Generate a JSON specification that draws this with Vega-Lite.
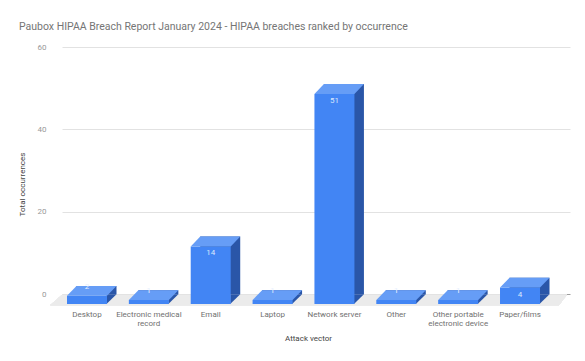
{
  "$schema": "https://vega.github.io/schema/vega-lite/v6.json",
  "autosize": {"type": "none"},
  "padding": {"left": 62, "top": 47, "right": 15, "bottom": 66.7},
  "width": 508,
  "height": 247.3,
  "background": "white",
  "title": {
    "text": "Paubox HIPAA Breach Report January 2024 - HIPAA breaches ranked by occurrence",
    "anchor": "start",
    "frame": "group",
    "dx": -43,
    "offset": 11,
    "font": "Roboto",
    "fontSize": 10.5,
    "fontWeight": "normal",
    "color": "#757575"
  },
  "config": {
    "view": {"stroke": null},
    "font": "Roboto"
  },
  "data": {
    "values": [
      {"vector": "Desktop", "count": 2},
      {"vector": "Electronic medical record", "count": 1},
      {"vector": "Email", "count": 14},
      {"vector": "Laptop", "count": 1},
      {"vector": "Network server", "count": 51},
      {"vector": "Other", "count": 1},
      {"vector": "Other portable electronic device", "count": 1},
      {"vector": "Paper/films", "count": 4}
    ]
  },
  "encoding": {
    "x": {
      "field": "vector",
      "type": "nominal",
      "sort": null,
      "scale": {"paddingInner": 0.3534, "paddingOuter": 0.2828, "align": 0.4145, "round": false},
      "axis": {
        "title": "Attack vector",
        "titleFont": "Roboto",
        "titleFontSize": 8,
        "titleFontWeight": "normal",
        "titleColor": "#444444",
        "titleX": 246,
        "titleY": 44,
        "titleBaseline": "middle",
        "labelAngle": 0,
        "labelFont": "Roboto",
        "labelFontSize": 8,
        "labelColor": "#707070",
        "labelOffset": -9.5,
        "labelPadding": 20,
        "labelLineHeight": 9,
        "labelBaseline": "middle",
        "labelExpr": "datum.value == 'Electronic medical record' ? ['Electronic medical', 'record'] : datum.value == 'Other portable electronic device' ? ['Other portable', 'electronic device'] : datum.label",
        "ticks": false,
        "domain": false,
        "grid": false
      }
    },
    "y": {
      "field": "count",
      "type": "quantitative",
      "scale": {"domain": [0, 60], "nice": false, "zero": true},
      "axis": {
        "title": "Total occurrences",
        "titleFont": "Roboto",
        "titleFontSize": 8,
        "titleFontWeight": "normal",
        "titleColor": "#444444",
        "titleX": -40,
        "titleY": 137,
        "titleBaseline": "middle",
        "values": [0, 20, 40, 60],
        "labelFont": "Roboto",
        "labelFontSize": 8,
        "labelColor": "#999999",
        "labelPadding": 16,
        "ticks": false,
        "domain": false,
        "grid": true,
        "gridColor": {"condition": {"test": "datum.value === 0", "value": "#9e9e9e"}, "value": "#e2e2e2"},
        "gridWidth": 1
      }
    }
  },
  "layer": [
    {
      "mark": {"type": "point", "filled": true, "opacity": 1, "strokeWidth": 0, "size": 4, "color": "#ebebeb",
        "shape": "M -34.5 0.5 L 470.5 0.5 L 462.5 11 L -46.5 11 Z"},
      "encoding": {"x": {"datum": "Desktop"}, "y": {"datum": 0}}
    },
    {
      "mark": {"type": "bar", "color": "#2a56a8"}
    },
    {
      "mark": {"type": "point", "filled": true, "opacity": 1, "strokeWidth": 0, "size": 4, "color": "#2a56a8",
        "shape": "M 10 0 L 10 9.8 L 20 0 Z"},
      "encoding": {"y": {"datum": 0}}
    },
    {
      "mark": {"type": "bar", "color": "#4285f4", "xOffset": -9.5, "x2Offset": -9.5, "yOffset": 9.8, "y2Offset": 9.8}
    },
    {
      "mark": {"type": "point", "filled": true, "opacity": 1, "strokeWidth": 0, "size": 4, "color": "#669df6",
        "shape": "M -29.5 9.8 L 10.5 9.8 L 20 0 L -20 0 Z"}
    },
    {
      "transform": [{"filter": "datum.count >= 3"}],
      "mark": {"type": "text", "font": "Roboto", "fontSize": 8, "color": "#dce8fd", "dx": -9.5, "dy": 16.8, "baseline": "middle"},
      "encoding": {"text": {"field": "count", "type": "quantitative"}}
    },
    {
      "transform": [{"filter": "datum.count < 3"}],
      "mark": {"type": "text", "font": "Roboto", "fontSize": 8, "color": "#e8f0fe", "dx": -9.5, "dy": 1, "baseline": "middle"},
      "encoding": {"text": {"field": "count", "type": "quantitative"}}
    }
  ]
}
